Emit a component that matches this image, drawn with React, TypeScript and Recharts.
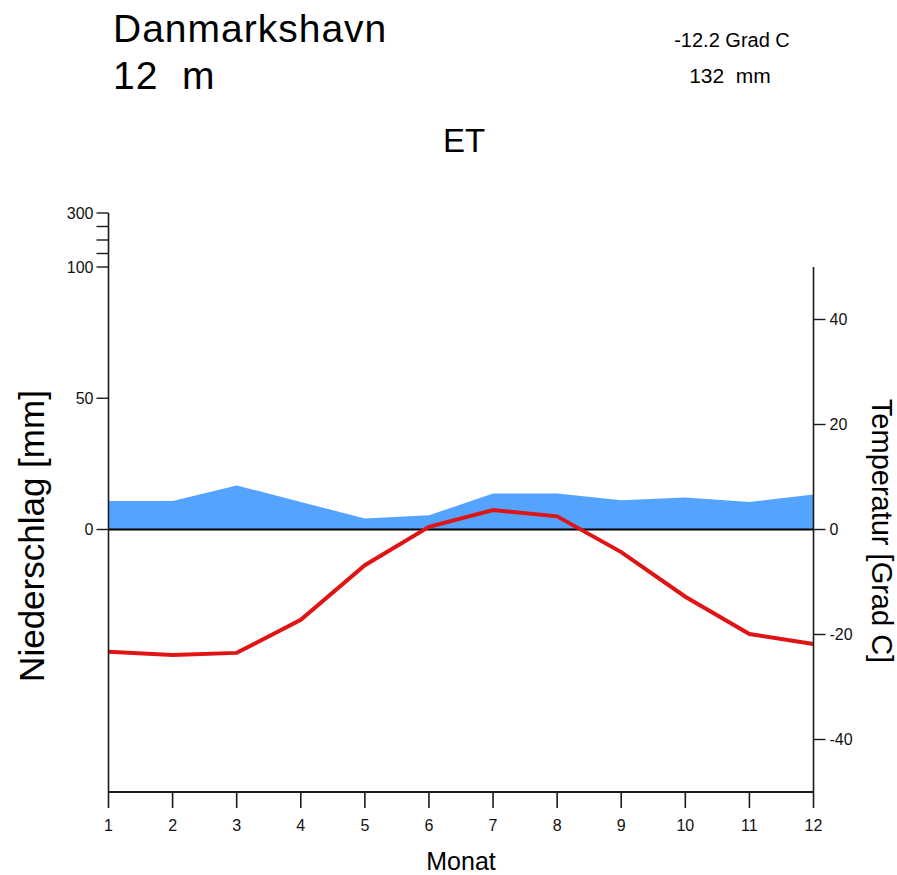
import { ComposedChart, Area, Line, XAxis, YAxis, ReferenceLine } from "recharts";

const FONT = "'Liberation Sans', Arial, sans-serif";

// station header
const stationName = "Danmarkshavn";
const stationHeight = "12  m";
const meanTemperature = "-12.2 Grad C";
const annualPrecipitation = "132  mm";
const climateClass = "ET";

// monthly values
const months = [1, 2, 3, 4, 5, 6, 7, 8, 9, 10, 11, 12];
const precipitation = [10.9, 10.9, 16.8, 10.5, 4.2, 5.4, 13.7, 13.7, 11.1, 12.2, 10.5, 13.3];
const temperature = [-23.3, -23.9, -23.5, -17.2, -6.8, 0.5, 3.7, 2.5, -4.3, -12.8, -19.9, -21.8];

// axis ticks
const precipTicks = [0, 50, 100];
const precipHighTicks = [150, 200, 250, 300];
const precipHighLabels = [300];
const tempTicks = [-40, -20, 0, 20, 40];

// plot geometry
const W = 897;
const H = 875;
const PLOT_LEFT = 108.5;
const PLOT_RIGHT = 813.5;
const PLOT_TOP = 267;
const PLOT_BOTTOM = 792;
const HIGH_TOP = 213; // compressed scale above 100 mm
const AXIS_W = 50;
const XAXIS_H = 40;

const AXIS_COLOR = "#1a1a1a";
const TICK_FONT = 16;
const tickStyle = { fill: "#111", fontSize: TICK_FONT, fontFamily: FONT };

const chartData = months.map((m, i) => ({
  month: m,
  prec: precipitation[i],
  temp: temperature[i],
}));

// y position on the compressed 100..300 mm part of the left axis
const highY = (v: number) =>
  PLOT_TOP - ((v - 100) / (300 - 100)) * (PLOT_TOP - HIGH_TOP);

export default function App() {
  return (
    <div
      style={{
        position: "absolute",
        left: 0,
        top: 0,
        width: W,
        height: H,
        background: "#fff",
        fontFamily: FONT,
      }}
    >
      <ComposedChart
        width={W}
        height={H}
        data={chartData}
        margin={{
          top: PLOT_TOP,
          right: W - PLOT_RIGHT - AXIS_W,
          bottom: H - PLOT_BOTTOM - XAXIS_H,
          left: PLOT_LEFT - AXIS_W,
        }}
      >
        <XAxis
          dataKey="month"
          type="number"
          domain={[1, 12]}
          ticks={months}
          height={XAXIS_H}
          fontSize={TICK_FONT}
          tick={tickStyle}
          tickSize={16}
          tickMargin={12}
          axisLine={{ stroke: AXIS_COLOR, strokeWidth: 1.8 }}
          tickLine={{ stroke: AXIS_COLOR, strokeWidth: 1.6 }}
        />
        <YAxis
          yAxisId="prec"
          orientation="left"
          type="number"
          domain={[-100, 100]}
          ticks={precipTicks}
          width={AXIS_W}
          fontSize={TICK_FONT}
          tick={tickStyle}
          tickSize={12}
          tickMargin={3}
          axisLine={{ stroke: AXIS_COLOR, strokeWidth: 1.6 }}
          tickLine={{ stroke: AXIS_COLOR, strokeWidth: 1.4 }}
        />
        <YAxis
          yAxisId="temp"
          orientation="right"
          type="number"
          domain={[-50, 50]}
          ticks={tempTicks}
          width={AXIS_W}
          fontSize={TICK_FONT}
          tick={tickStyle}
          tickSize={12}
          tickMargin={4}
          axisLine={{ stroke: AXIS_COLOR, strokeWidth: 1.6 }}
          tickLine={{ stroke: AXIS_COLOR, strokeWidth: 1.4 }}
        />

        {/* Niederschlag */}
        <Area
          yAxisId="prec"
          type="linear"
          dataKey="prec"
          baseValue={0}
          stroke="none"
          fill="#54a3ff"
          fillOpacity={1}
          isAnimationActive={false}
        />

        <ReferenceLine yAxisId="prec" y={0} stroke="#000" strokeWidth={1.8} />

        {/* Temperatur */}
        <Line
          yAxisId="temp"
          type="linear"
          dataKey="temp"
          stroke="#e01414"
          strokeWidth={4}
          dot={false}
          isAnimationActive={false}
        />
      </ComposedChart>

      <svg
        width={W}
        height={H}
        style={{ position: "absolute", left: 0, top: 0, pointerEvents: "none" }}
        fontFamily={FONT}
      >
        {/* compressed part of the precipitation axis, 100..300 mm */}
        <line
          x1={PLOT_LEFT}
          x2={PLOT_LEFT}
          y1={HIGH_TOP}
          y2={PLOT_TOP}
          stroke={AXIS_COLOR}
          strokeWidth={1.6}
        />
        {precipHighTicks.map((v) => (
          <line
            key={v}
            x1={PLOT_LEFT - 12}
            x2={PLOT_LEFT}
            y1={highY(v)}
            y2={highY(v)}
            stroke={AXIS_COLOR}
            strokeWidth={1.4}
          />
        ))}
        {precipHighLabels.map((v) => (
          <text
            key={v}
            x={PLOT_LEFT - 15}
            y={highY(v)}
            dy="0.355em"
            textAnchor="end"
            fontSize={TICK_FONT}
            fill="#111"
          >
            {v}
          </text>
        ))}

        {/* header */}
        <text x={113} y={42} fontSize={39} letterSpacing={1} fill="#000">
          {stationName}
        </text>
        <text x={113} y={89} fontSize={39} letterSpacing={1} fill="#000" style={{ whiteSpace: "pre" }}>
          {stationHeight}
        </text>
        <text x={732} y={47} fontSize={20} textAnchor="middle" fill="#000">
          {meanTemperature}
        </text>
        <text x={730} y={83} fontSize={21} textAnchor="middle" fill="#000" style={{ whiteSpace: "pre" }}>
          {annualPrecipitation}
        </text>
        <text x={464} y={152} fontSize={33} textAnchor="middle" fill="#000">
          {climateClass}
        </text>

        {/* axis titles */}
        <text
          transform="translate(44 536) rotate(-90)"
          fontSize={35}
          textAnchor="middle"
          fill="#000"
        >
          Niederschlag [mm]
        </text>
        <text
          transform="translate(872 531) rotate(90)"
          fontSize={29}
          textAnchor="middle"
          fill="#000"
        >
          Temperatur [Grad C]
        </text>
        <text x={461} y={870} fontSize={25} textAnchor="middle" fill="#000">
          Monat
        </text>
      </svg>
    </div>
  );
}
